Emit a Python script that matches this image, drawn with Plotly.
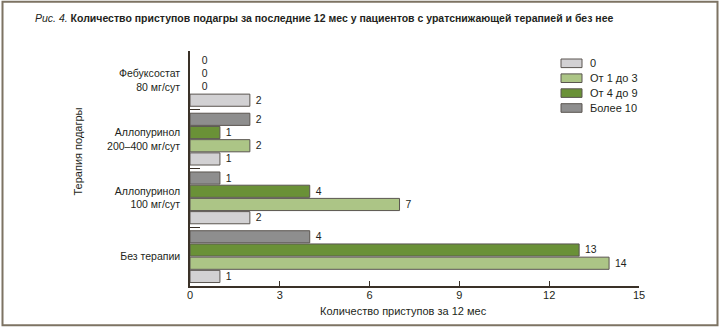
import plotly.graph_objects as go

# Treatment groups (bottom to top) and attack-count classes
therapies = ["Без терапии", "Аллопуринол<br>100 мг/сут",
             "Аллопуринол<br>200–400 мг/сут", "Фебуксостат<br>80 мг/сут"]
classes = ["0", "От 1 до 3", "От 4 до 9", "Более 10"]

# Number of patients per class, in the same order as therapies
vals_0 = [1, 2, 1, 2]
vals_1_3 = [14, 7, 2, 0]
vals_4_9 = [13, 4, 1, 0]
vals_10 = [4, 1, 2, 0]

colors = ["#d2d1d3", "#acc586", "#6a9137", "#8e8e8e"]
x_ticks = [0, 3, 6, 9, 12, 15]

W, H = 720, 329
ML, MR, MT, MB = 190, 81, 51, 43
PW, PH = W - ML - MR, H - MT - MB

FONT = "Liberation Sans, Arial, sans-serif"
TXT = "#231f20"
AX = "#3a3128"


def px(x):
    return (x - ML) / PW


def py(y):
    return (H - MB - y) / PH


fig = go.Figure()
for name, vals, col in zip(classes, [vals_0, vals_1_3, vals_4_9, vals_10], colors):
    fig.add_trace(go.Bar(
        y=therapies, x=vals, name=name, orientation="h",
        marker=dict(color=col, line=dict(color="#5a5550",
                                         width=[1 if v > 0 else 0 for v in vals])),
        text=[("\u00a0" if v > 0 else "\u00a0\u00a0\u00a0") + str(v) for v in vals],
        textposition="outside",
        textfont=dict(family=FONT, size=12, color=TXT),
        cliponaxis=False, showlegend=False,
    ))

shapes = [
    # outer frame
    dict(type="rect", xref="paper", yref="paper",
         x0=px(2.5), x1=px(717.5), y0=py(1.8), y1=py(325.3),
         line=dict(color="#7d7363", width=2), fillcolor="rgba(0,0,0,0)"),
]
annotations = [
    dict(text="<i>Рис. 4.</i> <b>Количество приступов подагры за последние 12 мес у пациентов с уратснижающей терапией и без нее</b>",
         xref="paper", yref="paper", x=px(33), y=py(18), xanchor="left", yanchor="middle",
         showarrow=False, font=dict(family=FONT, size=10.5, color=TXT)),
    dict(text="Количество приступов за 12 мес", xref="paper", yref="paper",
         x=px(403), y=py(311), xanchor="center", yanchor="middle", showarrow=False,
         font=dict(family=FONT, size=11, color=TXT)),
    dict(text="Терапия подагры", xref="paper", yref="paper", textangle=-90,
         x=px(77), y=py(151.5), xanchor="center", yanchor="middle", showarrow=False,
         font=dict(family=FONT, size=11, color=TXT)),
]

# legend: wide swatches with labels
for i, (name, col) in enumerate(zip(classes, colors)):
    yc = 63.3 + i * 14.9
    shapes.append(dict(type="rect", xref="paper", yref="paper",
                       x0=px(561), x1=px(582), y0=py(yc + 4.3), y1=py(yc - 4.3),
                       fillcolor=col, line=dict(color="#5a5550", width=1)))
    annotations.append(dict(text=name, xref="paper", yref="paper",
                            x=px(588), y=py(yc), xanchor="left", yanchor="middle",
                            showarrow=False, font=dict(family=FONT, size=11, color=TXT)))

fig.update_layout(
    width=W, height=H, margin=dict(l=ML, r=MR, t=MT, b=MB),
    paper_bgcolor="white", plot_bgcolor="white",
    barmode="group", bargap=0.1, bargroupgap=0.08,
    font=dict(family=FONT, size=11, color=TXT),
    shapes=shapes, annotations=annotations, showlegend=False,
    xaxis=dict(range=[0, 15], tickvals=x_ticks, ticks="inside", ticklen=5,
               tickcolor=AX, showline=True, linecolor=AX, linewidth=1.5,
               showgrid=False, zeroline=False, ticklabelstandoff=-2,
               tickfont=dict(family=FONT, size=11, color=TXT)),
    yaxis=dict(categoryorder="array", categoryarray=therapies,
               tickson="boundaries", ticks="inside", ticklen=10, tickcolor=AX,
               showline=True, linecolor=AX, linewidth=1.5, showgrid=False,
               ticklabelstandoff=6,
               tickfont=dict(family=FONT, size=10.5, color=TXT)),
)

fig.write_html("out.html")
